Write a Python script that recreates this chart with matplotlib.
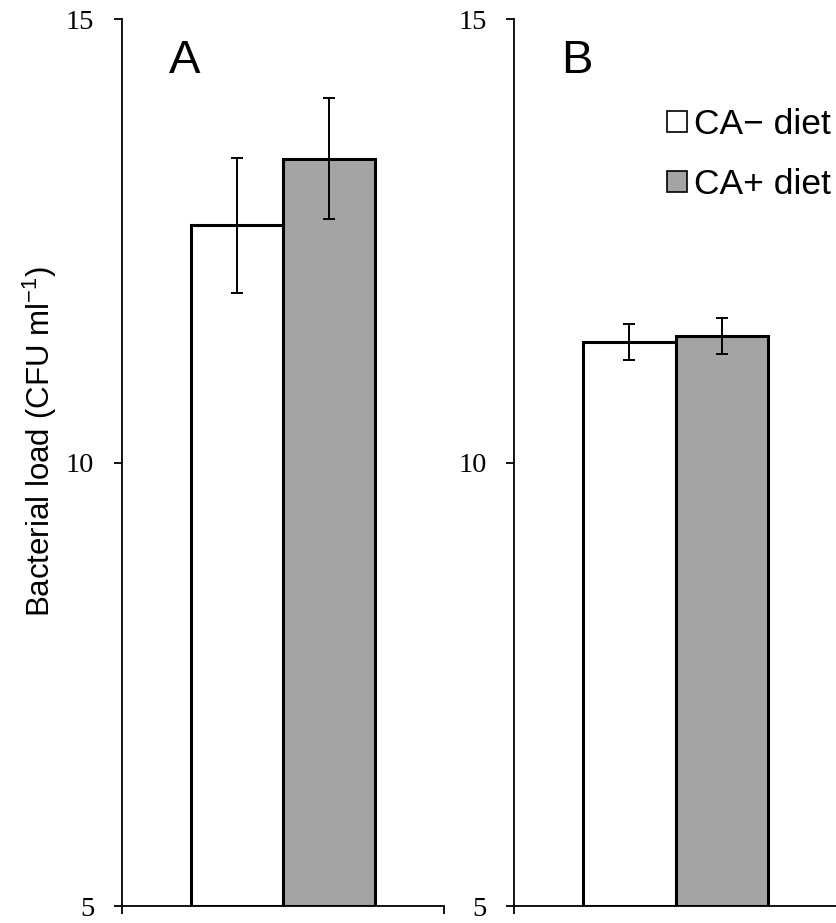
import matplotlib
matplotlib.use("Agg")
import matplotlib.pyplot as plt

# values (log10 CFU per ml)
groups = ["CA\u2212 diet", "CA+ diet"]
panel_a_means = [12.68, 13.43]
panel_a_errs = [0.76, 0.68]
panel_b_means = [11.36, 11.43]
panel_b_errs = [0.20, 0.20]
panel_names = ["A", "B"]
y_ticks = [5, 10, 15]

bar_colors = ["white", "#a4a4a4"]
serif = "Liberation Serif"
sans = "Liberation Sans"

fig = plt.figure(figsize=(8.37, 9.23), dpi=100)
ax_a = fig.add_axes([0.1458, 0.0184, 0.3852, 0.9605])
ax_b = fig.add_axes([0.6145, 0.0184, 0.3852, 0.9605])


def draw_panel(ax, means, errs, name):
    bars = []
    for i, (m, e) in enumerate(zip(means, errs)):
        b = ax.bar(i, m - 5, bottom=5, width=1.0, color=bar_colors[i],
                   edgecolor="black", linewidth=2.2, label=groups[i], zorder=2)
        ax.errorbar(i, m, yerr=e, color="black", elinewidth=1.4,
                    capsize=4, capthick=1.4, zorder=3)
        bars.append(b)

    ax.set_ylim(5, 15)
    ax.set_xlim(-1.25, 2.25)
    ax.set_yticks(y_ticks)
    ax.set_yticklabels([str(t) for t in y_ticks], fontfamily=serif, fontsize=20.5)
    ax.set_xticks([-1.25, 2.25])
    ax.set_xticklabels(["", ""])
    ax.tick_params(axis="y", direction="out", length=6, width=1.3, pad=14)
    ax.tick_params(axis="x", direction="out", length=6, width=1.3)
    for side in ["top", "right"]:
        ax.spines[side].set_visible(False)
    for side in ["left", "bottom"]:
        ax.spines[side].set_linewidth(1.3)
    ax.text(0.145, 0.978, name, transform=ax.transAxes, fontfamily=sans,
            fontsize=34, va="top", ha="left")
    return bars


draw_panel(ax_a, panel_a_means, panel_a_errs, panel_names[0])
bars_b = draw_panel(ax_b, panel_b_means, panel_b_errs, panel_names[1])

leg = ax_b.legend(handles=[bars_b[0], bars_b[1]], loc="upper left",
                  bbox_to_anchor=(0.475, 0.90), frameon=False,
                  prop={"family": sans, "size": 25.5},
                  handlelength=0.54, handleheight=0.54, handletextpad=0.22,
                  labelspacing=0.77, borderaxespad=0, borderpad=0)
for h in leg.legend_handles:
    h.set_linewidth(1.2)

fig.text(0.048, 0.522, r"Bacterial load (CFU ml$^{\mathregular{-1}}$)",
         rotation=90, fontfamily=sans, fontsize=22.5, ha="center", va="center")

fig.savefig("out.png", dpi=100)
